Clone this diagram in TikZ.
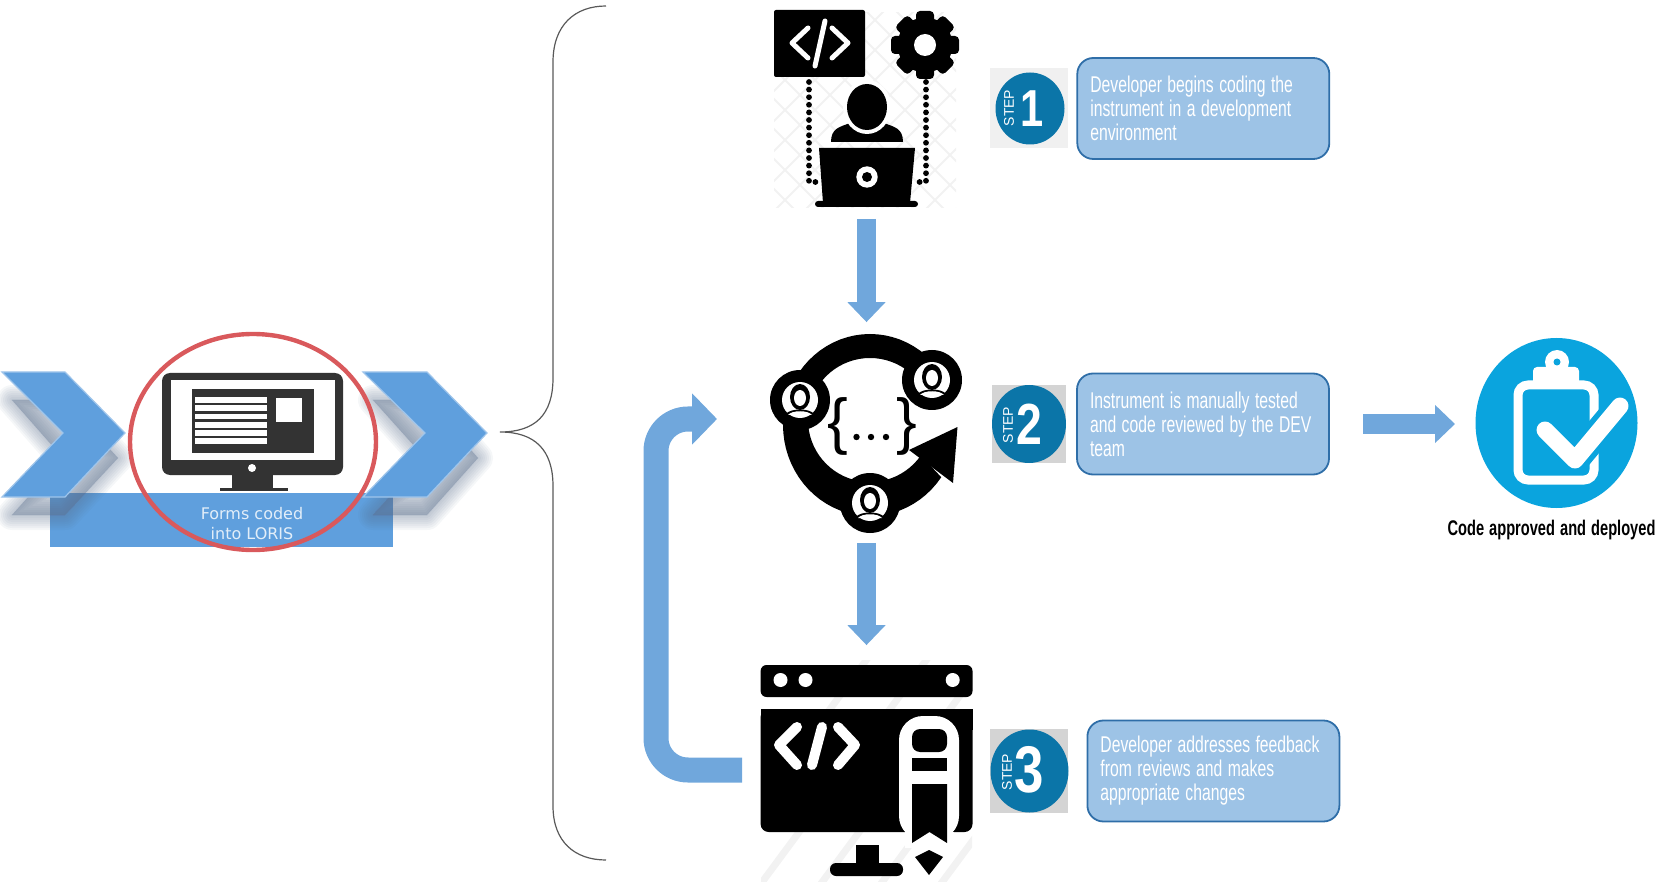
\documentclass[tikz,border=0pt]{standalone}
\usepackage{fontspec}
\usetikzlibrary{arrows.meta}
\setmainfont{Liberation Sans}
\newfontfamily\condfont[FakeStretch=0.69,WordSpace=1.25]{Liberation Sans}
\newfontfamily\stepfont[FakeStretch=0.8]{Liberation Sans}
\newfontfamily\formfont{DejaVu Sans}
\definecolor{flowblue}{HTML}{70A7DC}
\definecolor{chevblue}{HTML}{5F9FDD}
\definecolor{ringred}{HTML}{D9595C}
\definecolor{boxfill}{HTML}{9DC3E6}
\definecolor{boxedge}{HTML}{2F6EA8}
\definecolor{stepblue}{HTML}{0B75A8}
\definecolor{checkblue}{HTML}{0AA4DE}
\definecolor{monitorgray}{HTML}{333333}
\definecolor{shadegray}{HTML}{5A6F8C}
\tikzset{
	infobox/.style={draw=boxedge, fill=boxfill, line width=0.9pt, rounded corners=8pt, minimum width=126pt, minimum height=50.5pt, inner xsep=6.5pt, inner ysep=0pt, text width=113pt, align=flush left, text=white, font=\condfont\fontsize{11.4}{12}\selectfont},
	steptag/.style={text=white, rotate=90, inner sep=0pt, font=\fontsize{7}{8}\selectfont},
	stepnum/.style={text=white, inner sep=0pt, font=\stepfont\bfseries\fontsize{#1}{#1}\selectfont},
	iconbox/.style={inner sep=0pt, minimum width=#1},
	flowarrow/.style={draw=flowblue, line width=9.5pt, -{Triangle[length=10pt,width=18.5pt,fill=flowblue]}},
	loopflow/.style={draw=flowblue, line width=12.5pt, rounded corners=16pt, -{Triangle[length=12.5pt,width=25pt,fill=flowblue]}},
	whitecode/.style={draw=white, line cap=round, line join=round}
}
\begin{document}
\begin{tikzpicture}[x=0.5pt, y=-0.5pt]
	\useasboundingbox (0,0) rectangle (1661,882);

	% Band behind the chevrons
	\fill[chevblue] (50,493) rectangle (393,547);

	% Soft shadows of the chevrons
	\foreach \w in {15,13,11,9,7,5,3,1}
	{
		\fill[shadegray, draw=shadegray, opacity=0.06, line width=\w pt, line join=round] (12,400) -- (65,400) -- (118,458) -- (65,515) -- (12,515) -- (63,458) -- cycle;
		\fill[shadegray, draw=shadegray, opacity=0.06, line width=\w pt, line join=round] (373,400) -- (427,400) -- (478,458) -- (427,515) -- (373,515) -- (425,458) -- cycle;
	}

	% Chevrons
	\fill[chevblue, draw=chevblue!60!white, line width=0.6pt] (2,372) -- (65,372) -- (125,433) -- (65,497) -- (2,497) -- (63,433) -- cycle;
	\fill[chevblue, draw=chevblue!60!white, line width=0.6pt] (363,372) -- (427,372) -- (487,433) -- (427,497) -- (363,497) -- (425,433) -- cycle;

	% Monitor
	\fill[monitorgray, rounded corners=4pt] (162,373) rectangle (343,475);
	\fill[white] (171,380) rectangle (335,460);
	\fill[monitorgray] (192,389) rectangle (314,453);
	\foreach \y in {400,408,416.5,425,433,441}
	\fill[white] (195,\y-2.7) rectangle (267,\y+2.7);
	\fill[white] (276,398) rectangle (302,422);
	\fill[white] (252,468) circle (4);
	\fill[monitorgray] (232,475) rectangle (273,488);
	\fill[monitorgray] (220,488) rectangle (288,491);
	\node[text=white!82!chevblue, align=center, inner sep=0pt, font=\formfont\fontsize{8}{10}\selectfont] (formslabel) at (252,524) {Forms coded\\into LORIS};
	\draw[ringred, line width=2.2pt] (253,442) ellipse [x radius=123, y radius=108];

	% Brace
	\draw[black!65, line width=0.6pt] (606,6) .. controls (575,6) and (553,25) .. (553,62) -- (553,378) .. controls (553,415) and (535,432) .. (500,432) .. controls (535,432) and (553,450) .. (553,486) -- (553,806) .. controls (553,842) and (575,860) .. (606,860);

	% Icon frames
	\node[iconbox=93pt, minimum height=98.5pt] (devicon) at (866.5,108) {};
	\node[iconbox=95pt, minimum height=99.5pt] (reviewicon) at (866.5,433) {};
	\node[iconbox=106pt, minimum height=108.5pt] (codeicon) at (866.5,773) {};

	% Crosshatch behind the developer
	\begin{scope}
		\clip (774,13) rectangle (956,208);
		\foreach \d in {-200,-170,...,200}
		{
			\draw[black!5, line width=1pt] (865+\d-120,-10) -- (865+\d+120,230);
			\draw[black!5, line width=1pt] (865+\d+120,-10) -- (865+\d-120,230);
		}
	\end{scope}

	% Developer icon
	\fill[black, rounded corners=1pt] (774,10) rectangle (865,77);
	\draw[whitecode, line width=2.5pt] (808,28) -- (792,43) -- (808,58);
	\draw[whitecode, line width=2.5pt] (825,21) -- (815,66);
	\draw[whitecode, line width=2.5pt] (832,28) -- (848,43) -- (832,58);
	\foreach \a in {0,45,...,315}
	\fill[black, rounded corners=2pt, rotate around={\a:(925,45)}] (916,11) rectangle (934,45);
	\fill[black] (925,45) circle (27.5);
	\fill[white] (925,45) circle (11);
	\draw[black, line width=2.9pt, line cap=round, dash pattern=on 0pt off 3.8pt] (809,82) -- (809,182) -- (817,182);
	\draw[black, line width=2.9pt, line cap=round, dash pattern=on 0pt off 3.8pt] (926,82) -- (926,182) -- (916,182);
	\fill[black] (831,142) .. controls (831,128) and (840,127) .. (850,123) -- (884,123) .. controls (894,127) and (903,128) .. (903,142) -- cycle;
	\fill[white] (867,107) ellipse [x radius=24, y radius=27];
	\fill[black] (867,107) ellipse [x radius=20, y radius=23];
	\fill[black] (819,148) -- (915,148) -- (910,203) -- (823,203) -- cycle;
	\fill[black, rounded corners=1.5pt] (815,201) rectangle (918,207);
	\fill[white] (867,177) circle (10.7);
	\fill[black] (867,177) circle (5);

	% Review cycle icon
	\fill[black] plot[domain=-30:-325, samples=60] ({870+87*cos(\x)},{425+91*sin(\x)}) -- plot[domain=-325:-30, samples=60] ({870+62*cos(\x)},{420+62*sin(\x)}) -- cycle;
	\fill[black] (909,450) -- (957.5,427) -- (953,483) -- cycle;
	\foreach \ux/\uy in {800/400,932/380,870/503}
	{
		\fill[black] (\ux,\uy) circle (30);
		\fill[white] (\ux,\uy) circle (18);
		\fill[black] (\ux,\uy-3) ellipse [x radius=10, y radius=13];
		\fill[white] (\ux,\uy-2) ellipse [x radius=6, y radius=8];
		\fill[black] (\ux-14,\uy+14) .. controls (\ux-10,\uy+8) and (\ux+10,\uy+8) .. (\ux+14,\uy+14) -- cycle;
		\fill[white] (\ux-12,\uy+15) .. controls (\ux-8,\uy+10) and (\ux+8,\uy+10) .. (\ux+12,\uy+15) -- cycle;
	}
	\node[inner sep=0pt, font=\fontsize{31}{31}\selectfont] (openbrace) at (838,426) {\{};
	\node[inner sep=0pt, font=\fontsize{31}{31}\selectfont] (closebrace) at (907,426) {\}};
	\foreach \x in {856.5,871,886}
	\fill[black] (\x,437) circle (3.2);

	% Stripes behind the code window
	\begin{scope}
		\clip (761,660) rectangle (972,882);
		\foreach \d in {-60,0,...,300}
		\draw[black!5, line width=3.5pt] (760+\d,885) -- (760+\d+170,655);
	\end{scope}

	% Code window icon
	\fill[black, rounded corners=3pt] (760.6,665) -- (760.6,697) -- (972.5,697) -- (972.5,665) -- cycle;
	\foreach \x in {780.5,805.5,952.7}
	\fill[white] (\x,680) circle (7);
	\fill[black, rounded corners=4pt] (760.6,709) -- (760.6,832) -- (972.5,832) -- (972.5,709) -- cycle;
	\fill[black] (760.6,709) rectangle (972.5,730);
	\draw[whitecode, line width=5pt] (797,727) -- (779,745) -- (797,765);
	\draw[whitecode, line width=5pt] (822,727) -- (812,765);
	\draw[whitecode, line width=5pt] (838,727) -- (855,745) -- (838,765);
	\fill[white, rounded corners=12pt] (899,840) -- (899,716) -- (959,716) -- (959,840) -- cycle;
	\fill[black, rounded corners=4pt] (912,752) -- (912,729) -- (947,729) -- (947,752) -- cycle;
	\fill[black] (912,758) rectangle (947,771);
	\fill[white] (905,832) rectangle (954,848);
	\fill[black] (912,784) -- (947,784) -- (947,843) -- (929.5,832) -- (912,843) -- cycle;
	\fill[black] (929,850) -- (943,857) -- (929,875) -- (915,857) -- cycle;
	\fill[black] (856,845) rectangle (878.6,866);
	\fill[black, rounded corners=3pt] (830,863) rectangle (903,876);

	% Flow between the icons
	\coordinate (loopout) at (742,770);
	\coordinate (loopin) at (717,419);
	\coordinate (loopcorner) at (656,594);
	\draw[flowarrow, shorten <=6pt, shorten >=5.5pt] (devicon.south) -- (reviewicon.north);
	\draw[flowarrow, shorten <=5pt, shorten >=9.5pt] (reviewicon.south) -- (codeicon.north);
	\draw[loopflow] (loopout) -| (loopcorner) |- (loopin);

	% Badges
	\fill[black!6] (989.5,68) rectangle (1068,148);
	\fill[black!17] (992,385) rectangle (1066,463);
	\fill[black!17] (989.5,729) rectangle (1068,813);
	\fill[stepblue] (1030,108.5) ellipse [x radius=34.5, y radius=36];
	\fill[stepblue] (1029,424) ellipse [x radius=37, y radius=39];
	\fill[stepblue] (1029.5,771) ellipse [x radius=39, y radius=41.5];
	\node[steptag] (tagone) at (1009,108) {STEP};
	\node[steptag] (tagtwo) at (1008,425) {STEP};
	\node[steptag] (tagthree) at (1007,772) {STEP};
	\node[stepnum=26] (numone) at (1032,109) {1};
	\node[stepnum=29] (numtwo) at (1029,424) {2};
	\node[stepnum=33] (numthree) at (1029.6,770) {3};

	% Step texts
	\node[infobox] (coding) at (1203.3,108.5) {Developer begins coding the\\instrument in a development\\environment};
	\node[infobox] (testing) at (1203,424) {Instrument is manually tested\\and code reviewed by the DEV\\team};
	\node[infobox] (changes) at (1213.4,771) {Developer addresses feedback\\from reviews and makes\\appropriate changes};

	% Approved badge
	\node[iconbox=81pt, minimum height=85pt] (approved) at (1556.5,423) {};
	\fill[checkblue] (approved.center) ellipse [x radius=81, y radius=85];
	\draw[white, line width=4.5pt, rounded corners=5pt] (1518,385) rectangle (1594,480);
	\fill[white, rounded corners=2pt] (1533,367) rectangle (1579,385);
	\fill[white] (1557,362) circle (12);
	\fill[checkblue] (1557,362) circle (3.5);
	\draw[checkblue, line width=14pt, line cap=round, line join=round] (1545,430) -- (1575,460) -- (1620,406);
	\draw[whitecode, line width=8.5pt] (1545,430) -- (1575,460) -- (1620,406);
	\node[inner sep=0pt, font=\condfont\bfseries\fontsize{10.6}{12}\selectfont] (approvedlabel) at (1551.5,530) {Code approved and deployed};

	\coordinate (deployout) at (1363,424);
	\coordinate (deployin) at (1455,424);
	\draw[flowarrow] (deployout) -- (deployin);
\end{tikzpicture}
\end{document}
